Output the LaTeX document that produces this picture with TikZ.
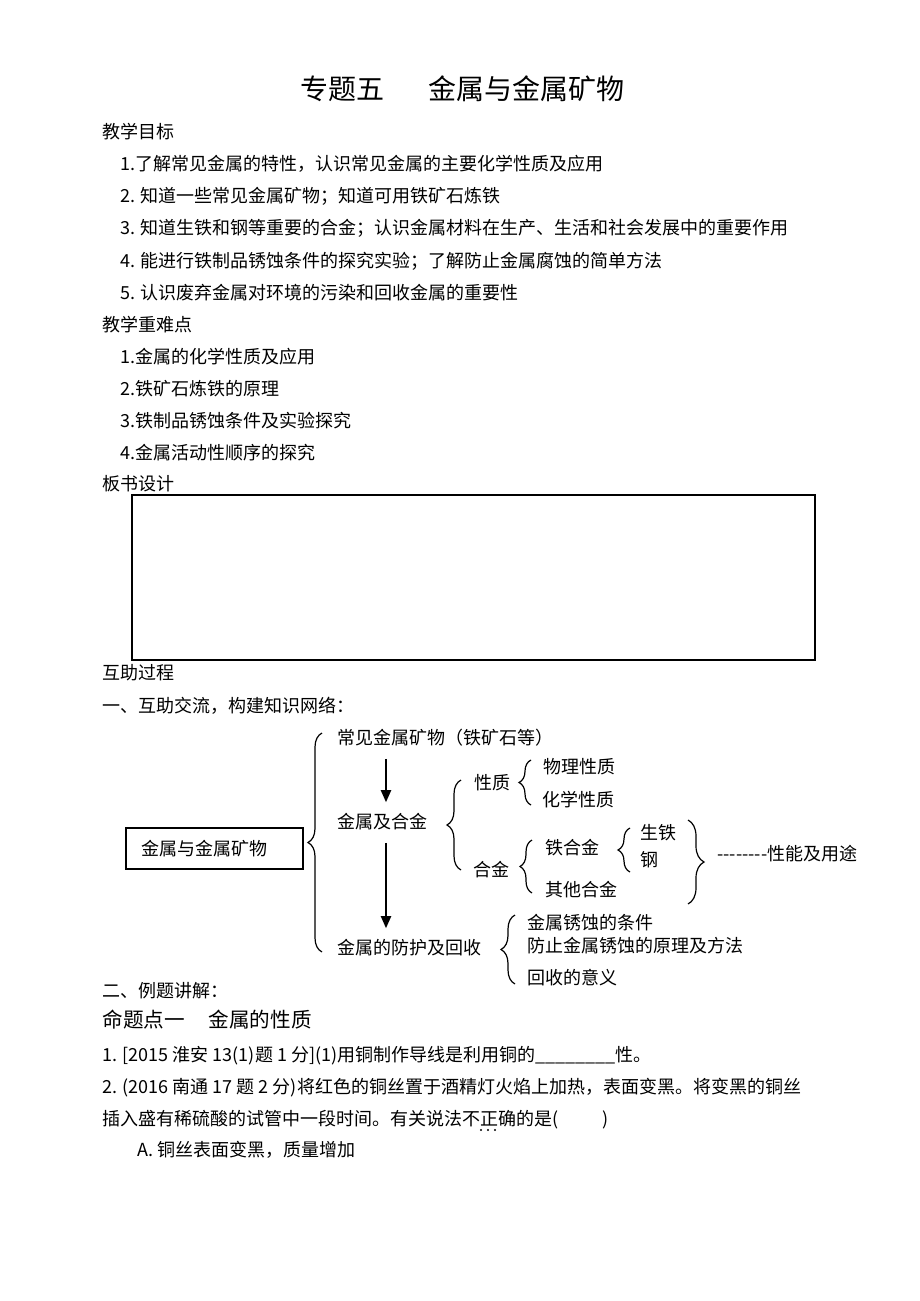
\documentclass[tikz,border=0pt]{standalone}
\usepackage{fontspec}
\setmainfont{Noto Sans CJK SC}
\usetikzlibrary{decorations.pathreplacing,arrows.meta}

\begin{document}
\begin{tikzpicture}[x=0.5pt,y=-0.5pt]
	\tikzstyle{txt} = [anchor=west, inner sep=0pt, font=\fontsize{9pt}{11pt}\selectfont]
	\tikzstyle{head} = [txt, font=\fontsize{14pt}{16pt}\selectfont]
	\tikzstyle{sub} = [txt, font=\fontsize{10.3pt}{12pt}\selectfont]
	\tikzstyle{topic} = [draw, line width=1pt, rectangle, minimum width=88.5pt, minimum height=20.5pt, inner sep=0pt, font=\fontsize{9pt}{11pt}\selectfont]
	\tikzstyle{brc} = [decorate, line width=0.6pt]
	\tikzstyle{arr} = [line width=1pt, -{Triangle[length=6pt,width=5pt]}, shorten <=6pt, shorten >=5.5pt]

	\useasboundingbox (0,0) rectangle (920,1301);

	% page heading and goals
	\node[head] (title) at (300,89) {专题五\hspace{22pt}金属与金属矿物};
	\node[txt] (goals) at (102,132) {教学目标};
	\node[txt] (g1) at (120,164) {1.了解常见金属的特性，认识常见金属的主要化学性质及应用};
	\node[txt] (g2) at (120,196) {2. 知道一些常见金属矿物；知道可用铁矿石炼铁};
	\node[txt] (g3) at (120,228) {3. 知道生铁和钢等重要的合金；认识金属材料在生产、生活和社会发展中的重要作用};
	\node[txt] (g4) at (120,261) {4. 能进行铁制品锈蚀条件的探究实验；了解防止金属腐蚀的简单方法};
	\node[txt] (g5) at (120,293) {5. 认识废弃金属对环境的污染和回收金属的重要性};
	\node[txt] (keys) at (102,325) {教学重难点};
	\node[txt] (k1) at (120,357) {1.金属的化学性质及应用};
	\node[txt] (k2) at (120,389) {2.铁矿石炼铁的原理};
	\node[txt] (k3) at (120,421) {3.铁制品锈蚀条件及实验探究};
	\node[txt] (k4) at (120,453) {4.金属活动性顺序的探究};
	\node[txt] (board) at (102,484) {板书设计};
	\draw[line width=1pt] (132,495) rectangle (815,660);
	\node[txt] (process) at (102,673) {互助过程};
	\node[txt] (step1) at (102,706) {一、互助交流，构建知识网络：};

	% knowledge network
	\node[topic] (main) at (214.5,848.5) {\hspace{-10pt}金属与金属矿物};
	\node[txt] (ore) at (337,738) {常见金属矿物（铁矿石等）};
	\node[txt] (metal) at (337,822) {金属及合金};
	\node[txt] (protect) at (337,948) {金属的防护及回收};
	\node[txt] (prop) at (474,783) {性质};
	\node[txt] (phys) at (543,767) {物理性质};
	\node[txt] (chem) at (542,800) {化学性质};
	\node[txt] (alloy) at (473,870) {合金};
	\node[txt] (fealloy) at (545,848) {铁合金};
	\node[txt] (other) at (545,890) {其他合金};
	\node[txt] (pigiron) at (640,833) {生铁};
	\node[txt] (steel) at (640,860) {钢};
	\node[txt] (use) at (717,854) {-{}-{}-{}-{}-{}-{}-{}-性能及用途};
	\node[txt] (rust) at (527,923) {金属锈蚀的条件};
	\node[txt] (prevent) at (527,946) {防止金属锈蚀的原理及方法};
	\node[txt] (recycle) at (527,978) {回收的意义};

	\coordinate (ax) at (386,0);
	\draw[arr] (ore.south -| ax) -- (metal.north -| ax);
	\draw[arr] (metal.south -| ax) -- (protect.north -| ax);

	% braces: x / from / to / amplitude
	\foreach \x/\ya/\yb/\amp in {322/952/733/7, 461/870/780/7, 531/805/760/6, 532/893/840/6, 630/872/828/6, 515/984/915/7, 688/820/904/8}
		\draw[brc, decoration={brace, amplitude=\amp pt}] (\x,\ya) -- (\x,\yb);

	% examples
	\node[txt] (step2) at (102,991) {二、例题讲解：};
	\node[sub] (point) at (102,1020) {命题点一\hspace{12pt}金属的性质};
	\node[txt] (q1) at (102,1056) {1. [2015 淮安 13(1)题 1 分](1)用铜制作导线是利用铜的\_\_\_\_\_\_\_\_性。};
	\node[txt] (q2) at (102,1088) {2. (2016 南通 17 题 2 分)将红色的铜丝置于酒精灯火焰上加热，表面变黑。将变黑的铜丝};
	\node[txt] (q2b) at (102,1120) {插入盛有稀硫酸的试管中一段时间。有关说法不正确的是(\hspace{22pt})};
	\foreach \x in {481,488,495}
		\fill (\x,1130) circle (0.6pt);
	\node[txt] (qa) at (137,1150) {A. 铜丝表面变黑，质量增加};
\end{tikzpicture}
\end{document}
